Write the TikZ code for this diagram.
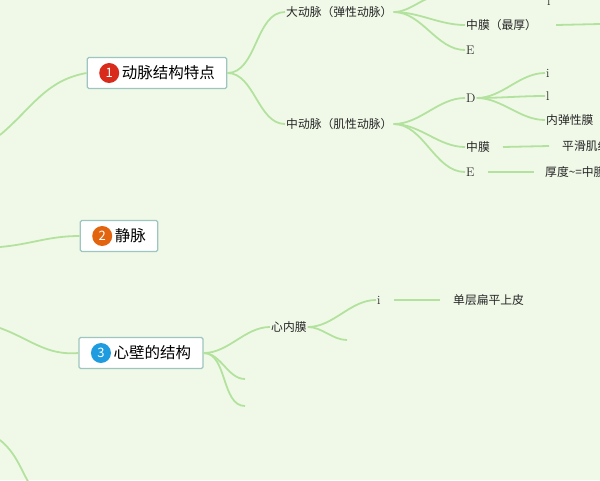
\documentclass[tikz,border=0pt]{standalone}
\usepackage{fontspec}
\newfontfamily\cjk{Noto Sans CJK SC}
\usetikzlibrary{positioning}
\definecolor{bgc}{HTML}{F0F9E8}
\definecolor{linec}{HTML}{B3E29F}
\definecolor{boxc}{HTML}{9DC6C0}
\definecolor{redc}{HTML}{D92B1C}
\definecolor{orac}{HTML}{E3640F}
\definecolor{bluc}{HTML}{1F9BDF}
\tikzset{
  topic/.style={draw=boxc, line width=1.2pt, fill=white, rounded corners=1.5pt, minimum height=31pt, inner xsep=12pt, font=\cjk\fontsize{15.5}{15.5}\selectfont},
  leaf/.style={inner sep=1pt, font=\cjk\fontsize{11.8}{11.8}\selectfont, text=black!85},
  latin/.style={leaf, font=\fontsize{12.5}{12.5}\selectfont},
  num/.style={circle, fill=#1, text=white, inner sep=0pt, minimum size=20pt, font=\cjk\fontsize{13}{13}\selectfont},
  link/.style={draw=linec, line width=1.8pt},
  fan/.style={link, out=0, in=180, looseness=0.9}
}
\begin{document}
\begin{tikzpicture}[x=1pt, y=-1pt]
\fill[bgc](0,0)rectangle(600,480);
\useasboundingbox (0,0) rectangle (600,480);
\clip (0,0) rectangle (600,480);
% main topics
\node[topic] (art) at (157,73) {\tikz[baseline=-0.7ex]\node[num=redc]{1};\,动脉结构特点};
\node[topic] (vein) at (119,236) {\tikz[baseline=-0.7ex]\node[num=orac]{2};\,静脉};
\node[topic] (heart) at (141,353) {\tikz[baseline=-0.7ex]\node[num=bluc]{3};\,心壁的结构};
\coordinate (r1) at (0,135);
\coordinate (r2) at (0,247);
\coordinate (r3) at (0,328);
\coordinate (r4) at (0,440);
\coordinate (r4e) at (30,485);
\draw[link] (r1) to[out=40,in=190] (art.west);
\draw[link] (r2) to[out=5,in=180] (vein.west);
\draw[link] (r3) to[out=-20,in=185] (heart.west);
\draw[link] (r4) to[out=-40,in=120] (r4e);
% arteries
\node[leaf, anchor=west] (big) at (285,12) {大动脉（弹性动脉）};
\node[leaf, anchor=west] (mid) at (285,124) {中动脉（肌性动脉）};
\draw[fan] (art.east) to (big.west);
\draw[fan] (art.east) to (mid.west);
\coordinate (bigup) at (440,-4);
\node[leaf, anchor=west] (bigm) at (465,25) {中膜（最厚）};
\node[latin, anchor=west] (bige) at (465,50) {E};
\node[latin, anchor=west] (bigbar) at (546,1) {l};
\coordinate (bigmx) at (600,24);
\draw[fan] (big.east) to (bigup);
\draw[fan] (big.east) to (bigm.west);
\draw[fan] (big.east) to (bige.west);
\draw[link] ([xshift=18pt]bigm.east) -- (bigmx);
% medium artery
\node[latin, anchor=west] (md) at (465,98) {D};
\node[leaf, anchor=west] (mm) at (465,147) {中膜};
\node[latin, anchor=west] (me) at (465,172) {E};
\draw[fan] (mid.east) to (md.west);
\draw[fan] (mid.east) to (mm.west);
\draw[fan] (mid.east) to (me.west);
\node[latin, anchor=west] (di) at (545,73) {i};
\node[latin, anchor=west] (dl) at (545,96) {l};
\node[leaf, anchor=west] (dn) at (545,120) {内弹性膜};
\draw[fan] (md.east) to (di.west);
\draw[fan] (md.east) to (dl.west);
\draw[fan] (md.east) to (dn.west);
\node[leaf, anchor=west] (smc) at (561,146) {平滑肌纤维};
\node[leaf, anchor=west] (thk) at (544,172) {厚度\textasciitilde=中膜};
\draw[link] ([xshift=12pt]mm.east) -- ([xshift=-12pt]smc.west);
\draw[link] ([xshift=12pt]me.east) -- ([xshift=-10pt]thk.west);
% heart wall
\node[leaf, anchor=west] (endo) at (270,327) {心内膜};
\coordinate (hw2) at (245,379);
\coordinate (hw3) at (245,406);
\draw[fan] (heart.east) to (endo.west);
\draw[fan] (heart.east) to (hw2);
\draw[fan] (heart.east) to (hw3);
\node[latin, anchor=west] (ei) at (376,300) {i};
\coordinate (eb) at (347,340);
\draw[fan] (endo.east) to (ei.west);
\draw[fan] (endo.east) to (eb);
\node[leaf, anchor=west] (epi) at (452,300) {单层扁平上皮};
\draw[link] ([xshift=12pt]ei.east) -- ([xshift=-12pt]epi.west);
\end{tikzpicture}
\end{document}
